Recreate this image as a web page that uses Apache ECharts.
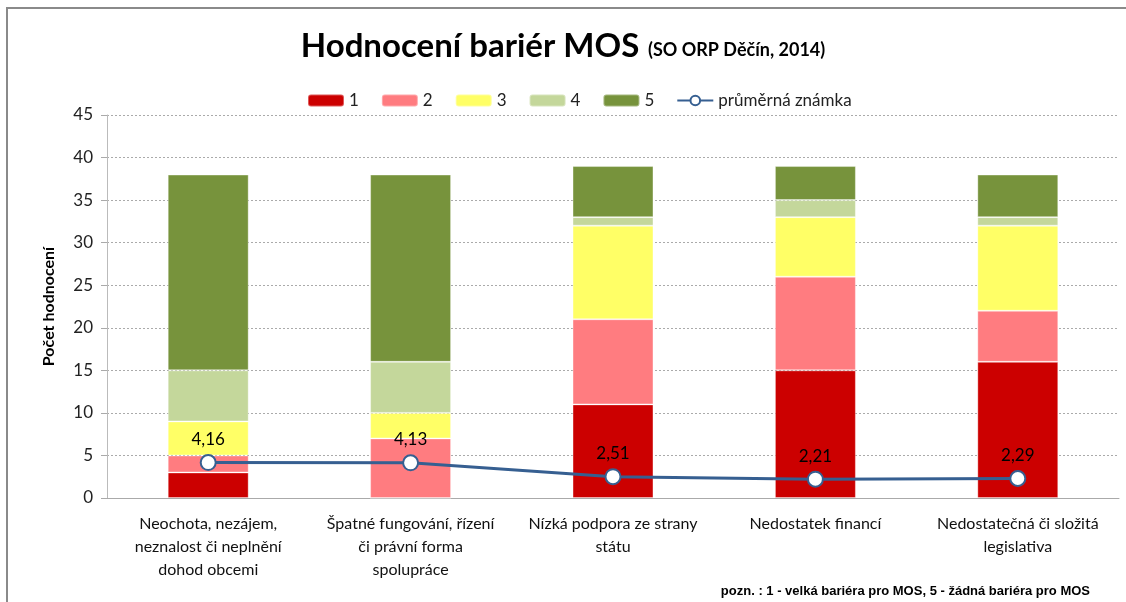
<!DOCTYPE html>
<html>
<head>
<meta charset="utf-8">
<script src="https://cdn.jsdelivr.net/npm/echarts@6/dist/echarts.min.js"></script>
<style>
  html, body { margin: 0; padding: 0; background: #fff; }
  #chart { width: 1126px; height: 602px; }
</style>
</head>
<body>
<div id="chart"></div>
<script>
// kategorie bariér
var categories = [
  'Neochota, nezájem,\nneznalost či neplnění\ndohod obcemi',
  'Špatné fungování, řízení\nči právní forma\nspolupráce',
  'Nízká podpora ze strany\nstátu',
  'Nedostatek financí',
  'Nedostatečná či složitá\nlegislativa'
];
// počty hodnocení podle známky
var grade1 = [3, 0, 11, 15, 16];
var grade2 = [2, 7, 10, 11, 6];
var grade3 = [4, 3, 11, 7, 10];
var grade4 = [6, 6, 1, 2, 1];
var grade5 = [23, 22, 6, 4, 5];
var average = [4.16, 4.13, 2.51, 2.21, 2.29];
var yTicks = [0, 45, 5];

var font = 'Lato, "Liberation Sans", sans-serif';
var chart = echarts.init(document.getElementById('chart'));

function barSeries(name, data, color) {
  return {
    name: name,
    type: 'bar',
    stack: 'total',
    barWidth: '40%',
    data: data,
    itemStyle: { color: color, borderColor: 'rgba(255,255,255,0.35)', borderWidth: 1 }
  };
}

var option = {
  animation: false,
  textStyle: { fontFamily: font },
  title: {
    text: '{a|Hodnocení bariér MOS}  {b|(SO ORP Děčín, 2014)}',
    left: 'center',
    top: 25,
    textStyle: {
      rich: {
        a: { fontSize: 33, fontWeight: 'bold', color: '#000', fontFamily: font },
        b: { fontSize: 18, fontWeight: 'bold', color: '#000', fontFamily: font, padding: [7, 0, 0, 0] }
      }
    }
  },
  legend: {
    top: 87,
    left: 302,
    itemWidth: 36,
    itemHeight: 12,
    itemGap: 22,
    textStyle: { fontSize: 17, color: '#222', fontFamily: font },
    data: ['1', '2', '3', '4', '5', 'průměrná známka']
  },
  grid: { left: 107, right: 7, top: 115, bottom: 104 },
  xAxis: {
    type: 'category',
    data: categories,
    axisLine: { lineStyle: { color: '#aaa' } },
    axisTick: { length: 6, lineStyle: { color: '#aaa' } },
    axisLabel: { fontSize: 16, color: '#111', lineHeight: 23, margin: 14, interval: 0, fontFamily: font }
  },
  yAxis: {
    type: 'value',
    min: yTicks[0],
    max: yTicks[1],
    interval: yTicks[2],
    name: 'Počet hodnocení',
    nameLocation: 'middle',
    nameGap: 50,
    nameTextStyle: { fontSize: 16, fontWeight: 'bold', color: '#000', fontFamily: font },
    axisLine: { show: true, lineStyle: { color: '#bbb' } },
    axisTick: { show: true, length: 6, lineStyle: { color: '#aaa' } },
    axisLabel: { fontSize: 17, color: '#222', margin: 14, fontFamily: font },
    splitLine: { lineStyle: { color: '#aaa', type: [2, 2] } }
  },
  series: [
    barSeries('1', grade1, '#CC0000'),
    barSeries('2', grade2, '#FF7C80'),
    barSeries('3', grade3, '#FFFF66'),
    barSeries('4', grade4, '#C4D79B'),
    barSeries('5', grade5, '#77933C'),
    {
      name: 'průměrná známka',
      type: 'line',
      data: average,
      z: 5,
      symbol: 'circle',
      symbolSize: 15,
      lineStyle: { color: '#365F91', width: 3 },
      itemStyle: { color: '#fff', borderColor: '#365F91', borderWidth: 2 },
      label: {
        show: true,
        position: 'top',
        distance: 6,
        fontSize: 17,
        color: '#000',
        fontFamily: font,
        formatter: function (p) { return p.value.toFixed(2).replace('.', ','); }
      }
    }
  ],
  graphic: [
    {
      type: 'rect',
      shape: { x: 7, y: 8, width: 1130, height: 620 },
      style: { fill: 'none', stroke: '#8a8a8a', lineWidth: 2 },
      silent: true
    },
    {
      type: 'text',
      right: 36,
      top: 585,
      style: {
        text: 'pozn. : 1 - velká bariéra pro MOS, 5 - žádná bariéra pro MOS',
        font: 'bold 13px "Liberation Sans Narrow", "Liberation Sans", sans-serif',
        fill: '#000'
      }
    }
  ]
};

chart.setOption(option);
</script>
</body>
</html>
